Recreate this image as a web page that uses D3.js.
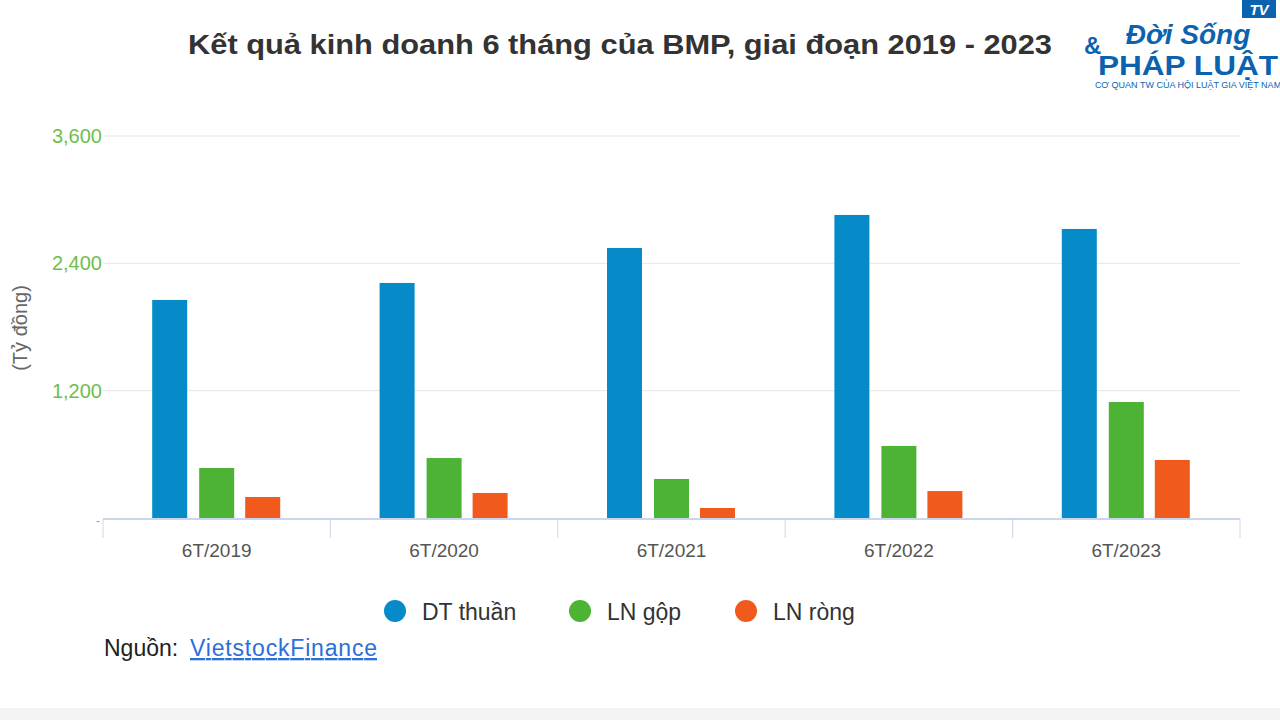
<!DOCTYPE html>
<html><head><meta charset="utf-8">
<script src="https://cdn.jsdelivr.net/npm/d3@7"></script>
<style>body{margin:0;background:#fff}svg{font-family:"Liberation Sans",Arial,sans-serif}</style>
</head><body>
<script>
const categories=["6T/2019","6T/2020","6T/2021","6T/2022","6T/2023"];
const dtThuan=[2055,2215,2545,2856,2724];
const lnGop=[471,565,368,679,1093];
const lnRong=[198,236,94,254,547];
const seriesNames=["DT thuần","LN gộp","LN ròng"];
const colors=["#078bc8","#4db334","#f05a1c"];
const ticks=[0,1200,2400,3600];

const svg=d3.select("body").append("svg").attr("width",1280).attr("height",720);
svg.append("rect").attr("x",0).attr("y",708).attr("width",1280).attr("height",12).attr("fill","#f4f4f4");
svg.append("text").attr("x",188).attr("y",54).attr("textLength",864).attr("lengthAdjust","spacingAndGlyphs").attr("font-size",27).attr("font-weight","bold").attr("fill","#333").text("Kết quả kinh doanh 6 tháng của BMP, giai đoạn 2019 - 2023");

const x=d3.scaleBand().domain(categories).range([103,1240]);
const y=d3.scaleLinear().domain([0,3600]).range([518,136]);

ticks.forEach(t=>{
  if(t>0) svg.append("line").attr("x1",103).attr("x2",1240).attr("y1",y(t)).attr("y2",y(t)).attr("stroke","#e6e6e6");
  svg.append("text").attr("x",t>0?102:100).attr("y",y(t)+7).attr("text-anchor","end").attr("font-size",t>0?20:12).attr("fill","#6cc04a").text(t>0?d3.format(",")(t):"-");
});
svg.append("line").attr("x1",103).attr("x2",1240).attr("y1",519).attr("y2",519).attr("stroke","#ccd6eb").attr("stroke-width",2);
categories.forEach((c,i)=>{
  svg.append("line").attr("x1",x(c)).attr("x2",x(c)).attr("y1",519).attr("y2",538).attr("stroke","#ccd6eb");
  svg.append("text").attr("x",x(c)+x.bandwidth()/2).attr("y",557).attr("text-anchor","middle").attr("font-size",19).attr("fill","#555").text(c);
});
svg.append("line").attr("x1",1240).attr("x2",1240).attr("y1",519).attr("y2",538).attr("stroke","#ccd6eb");
svg.append("text").attr("transform","translate(27,328) rotate(-90)").attr("text-anchor","middle").attr("font-size",20).attr("fill","#666").text("(Tỷ đồng)");

const data=[dtThuan,lnGop,lnRong];
const offs=[-47,0,46];
data.forEach((arr,s)=>{
  svg.selectAll(null).data(arr).enter().append("rect")
   .attr("x",(d,i)=>x(categories[i])+x.bandwidth()/2+offs[s]-17.5)
   .attr("width",35).attr("y",d=>y(d)).attr("height",d=>y(0)-y(d)).attr("fill",colors[s]);
});
const lx=[395,580,746];
seriesNames.forEach((n,i)=>{
  svg.append("circle").attr("cx",lx[i]).attr("cy",611).attr("r",11).attr("fill",colors[i]);
  svg.append("text").attr("x",lx[i]+27).attr("y",620).attr("font-size",23).attr("fill","#333").text(n);
});
svg.append("text").attr("x",104).attr("y",656).attr("font-size",23).attr("fill","#222").text("Nguồn:");
svg.append("text").attr("x",190).attr("y",656).attr("font-size",23).attr("textLength",187).attr("fill","#2a6fdb").attr("text-decoration","underline").text("VietstockFinance");
// logo
svg.append("text").attr("x",1188).attr("y",44).attr("text-anchor","middle").attr("font-size",28).attr("font-weight","bold").attr("font-style","italic").attr("fill","#0b63b0").text("Đời Sống");
svg.append("text").attr("x",1188).attr("y",75).attr("text-anchor","middle").attr("font-size",27).attr("font-weight","bold").attr("textLength",180).attr("lengthAdjust","spacingAndGlyphs").attr("fill","#0b63b0").text("PHÁP LUẬT");
svg.append("text").attr("x",1084).attr("y",54).attr("font-size",24).attr("font-weight","bold").attr("fill","#0b63b0").text("&");
svg.append("rect").attr("x",1242).attr("y",0).attr("width",34).attr("height",18).attr("fill","#0b63b0");
svg.append("text").attr("x",1259).attr("y",15).attr("text-anchor","middle").attr("font-size",15).attr("font-weight","bold").attr("font-style","italic").attr("fill","#fff").text("TV");
svg.append("text").attr("x",1188).attr("y",88).attr("text-anchor","middle").attr("font-size",9).attr("fill","#0b63b0").text("CƠ QUAN TW CỦA HỘI LUẬT GIA VIỆT NAM");
</script>
</body></html>
